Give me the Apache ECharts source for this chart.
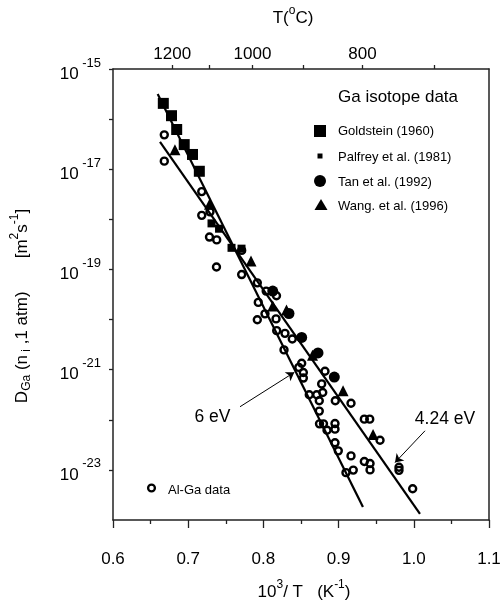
<!DOCTYPE html>
<html><head><meta charset="utf-8">
<script src="https://cdn.jsdelivr.net/npm/echarts@6/dist/echarts.min.js"></script>
<style>html,body{margin:0;padding:0;background:#fff}#c{width:503px;height:605px}</style>
</head><body><div id="c"></div>
<script>
const FONT = '"Liberation Sans", Arial, Helvetica, sans-serif';

// x: 10^3/T (K^-1), y: D_Ga (m^2 s^-1)
const goldsteinX = [0.6669, 0.6778, 0.6847, 0.6947, 0.7057, 0.7148];
const goldsteinY = [2.06e-16, 1.17e-16, 6.2e-17, 3.1e-17, 1.97e-17, 9.1e-18];

const palfreyX = [0.7310, 0.7410, 0.7576, 0.7709];
const palfreyY = [8.3e-19, 6.5e-19, 2.7e-19, 2.6e-19];

const tanX = [0.8124, 0.8340, 0.8509, 0.8726, 0.8943];
const tanY = [3.7e-20, 1.32e-20, 4.4e-21, 2.16e-21, 7.1e-22];

const wangX = [0.6824, 0.7283, 0.7835, 0.8124, 0.8307, 0.8653, 0.9059, 0.9458];
const wangY = [2.45e-17, 2.0e-18, 1.48e-19, 1.86e-20, 1.55e-20, 1.95e-21, 3.8e-22, 5.1e-23];

const alGaX = [0.6682, 0.6682, 0.7180, 0.7290, 0.7180, 0.7283, 0.7379, 0.7376, 0.7711, 0.7711,
               0.7919, 0.8037, 0.8174, 0.7932, 0.8021, 0.8168, 0.7919, 0.8177, 0.8287, 0.8384,
               0.8274, 0.8509, 0.8471, 0.8531, 0.8531, 0.8819, 0.8775, 0.8610, 0.8709, 0.8789,
               0.8743, 0.8956, 0.9165, 0.8743, 0.8746, 0.8799, 0.8952, 0.8952, 0.8846, 0.9342,
               0.9414, 0.9551, 0.8952, 0.8996, 0.9165, 0.9342, 0.9418, 0.9418, 0.9098, 0.9195,
               0.9803, 0.9803, 0.9985];
const alGaY = [4.85e-17, 1.45e-17, 3.58e-18, 1.41e-18, 1.2e-18, 4.43e-19, 3.89e-19, 1.12e-19, 2.4e-19, 7.9e-20,
               5.4e-20, 3.7e-20, 2.98e-20, 2.2e-20, 1.3e-20, 1.03e-20, 9.9e-21, 6.0e-21, 5.3e-21, 4.1e-21,
               2.48e-21, 1.34e-21, 1.11e-21, 8.8e-22, 6.8e-22, 9.3e-22, 5.2e-22, 3.16e-22, 3.16e-22, 3.5e-22,
               2.4e-22, 2.4e-22, 2.14e-22, 1.49e-22, 8.3e-23, 8.3e-23, 8.4e-23, 6.5e-23, 6.2e-23, 1.03e-22,
               1.03e-22, 3.9e-23, 3.47e-23, 2.4e-23, 1.9e-23, 1.47e-23, 1.34e-23, 1.0e-23, 8.8e-24, 9.9e-24,
               1.13e-23, 9.8e-24, 4.2e-24];

// fitted Arrhenius lines (end points)
const line6eVX = [0.6594, 0.9324];
const line6eVY = [3.16e-16, 1.82e-24];
const line424eVX = [0.6625, 1.0082];
const line424eVY = [3.52e-17, 1.32e-24];

// annotation arrows [startX, startY, endX, endY]
const arrow6eV = [0.7689, 1.82e-22, 0.8411, 8.83e-22];
const arrow424eV = [1.0149, 6.03e-23, 0.975, 1.40e-23];

// axis ticks
const xMin = 0.6, xMax = 1.1, xStep = 0.1;
const yMin = 1e-24, yMax = 1e-15;
const topTickC = [1200, 1100, 1000, 900, 800, 700];
const topLabelC = [1200, 1000, 800];

const zip = (xs, ys) => xs.map((x, i) => [x, ys[i]]);
const cToX = c => 1000 / (c + 273.15);

const AX = '#222';
const chart = echarts.init(document.getElementById('c'), null, {renderer: 'canvas'});

const richName = {
  b: {fontSize: 17, fontFamily: FONT, color: '#000'},
  sup: {fontSize: 12, fontFamily: FONT, color: '#000', padding: [0, 0, 14, 0]},
  sub: {fontSize: 12, fontFamily: FONT, color: '#000', padding: [10, 0, 0, 0]}
};
const filled = {color: '#000', opacity: 1};

const option = {
  animation: false,
  backgroundColor: '#fff',
  grid: {left: 113, right: 14, top: 69, bottom: 85, show: false, containLabel: false, outerBoundsMode: 'none'},
  xAxis: [{
    type: 'value', min: xMin, max: xMax, interval: xStep, position: 'bottom',
    axisLine: {show: true, onZero: false, lineStyle: {color: AX, width: 1.5}},
    axisTick: {show: true, inside: false, length: 8, lineStyle: {color: AX, width: 1.3}},
    minorTick: {show: true, splitNumber: 2, length: 4, lineStyle: {color: AX, width: 1.3}},
    splitLine: {show: false},
    axisLabel: {margin: 31, fontSize: 17, color: '#000', fontFamily: FONT,
      showMinLabel: true, showMaxLabel: true, formatter: v => v.toFixed(1)}
  }, {
    type: 'value', min: xMin, max: xMax, position: 'top',
    axisLine: {show: true, onZero: false, lineStyle: {color: AX, width: 1.5}},
    axisTick: {show: true, inside: false, length: 4, customValues: topTickC.map(cToX), lineStyle: {color: AX, width: 1.3}},
    splitLine: {show: false},
    axisLabel: {margin: 6, fontSize: 17, color: '#000', fontFamily: FONT,
      customValues: topLabelC.map(cToX), formatter: v => String(Math.round(1000 / v - 273.15))}
  }],
  yAxis: [{
    type: 'log', logBase: 10, min: yMin, max: yMax, splitNumber: 9, position: 'left',
    axisLine: {show: true, onZero: false, lineStyle: {color: AX, width: 1.5}},
    axisTick: {show: true, inside: false, length: 4, lineStyle: {color: AX, width: 1.3}},
    splitLine: {show: false},
    axisLabel: {
      margin: 12, color: '#000', fontFamily: FONT,
      formatter: v => { const e = Math.round(Math.log10(v)); return (e % 2 !== 0) ? '{b|10}{e| ' + e + '}' : ''; },
      rich: {
        b: {fontSize: 17, fontFamily: FONT, color: '#000', padding: [10, 0, 0, 0]},
        e: {fontSize: 13, fontFamily: FONT, color: '#000', padding: [0, 0, 12, 0]}
      }
    }
  }, {
    type: 'log', logBase: 10, min: yMin, max: yMax, splitNumber: 9, position: 'right',
    axisLine: {show: true, onZero: false, lineStyle: {color: AX, width: 1.5}},
    axisTick: {show: false}, axisLabel: {show: false}, splitLine: {show: false}
  }],
  series: [
    {name: '6 eV', type: 'line', data: zip(line6eVX, line6eVY), symbol: 'none',
      lineStyle: {color: '#000', width: 2.2}, silent: true,
      markLine: {silent: true, symbol: ['none', 'arrow'], symbolSize: 8, label: {show: false},
        lineStyle: {color: '#000', width: 1, type: 'solid', opacity: 1},
        data: [
          [{coord: [arrow6eV[0], arrow6eV[1]]}, {coord: [arrow6eV[2], arrow6eV[3]]}],
          [{coord: [arrow424eV[0], arrow424eV[1]]}, {coord: [arrow424eV[2], arrow424eV[3]]}]
        ]}},
    {name: '4.24 eV', type: 'line', data: zip(line424eVX, line424eVY), symbol: 'none',
      lineStyle: {color: '#000', width: 2.2}, silent: true},
    {name: 'Al-Ga data', type: 'scatter', data: zip(alGaX, alGaY), symbol: 'circle', symbolSize: 7,
      itemStyle: {color: 'rgba(255,255,255,0)', borderColor: '#000', borderWidth: 2.4, opacity: 1}},
    {name: 'Goldstein (1960)', type: 'scatter', data: zip(goldsteinX, goldsteinY), symbol: 'rect', symbolSize: 11,
      itemStyle: filled},
    {name: 'Palfrey et al. (1981)', type: 'scatter', data: zip(palfreyX, palfreyY), symbol: 'rect', symbolSize: 8,
      itemStyle: filled},
    {name: 'Tan et al. (1992)', type: 'scatter', data: zip(tanX, tanY), symbol: 'circle', symbolSize: 11,
      itemStyle: filled},
    {name: 'Wang. et al. (1996)', type: 'scatter', data: zip(wangX, wangY), symbol: 'triangle', symbolSize: 11,
      itemStyle: filled}
  ],
  graphic: [
    {type: 'text', x: 293, y: 18, style: {text: '{b|T(}{sup|o}{b|C)}', rich: richName, align: 'center', verticalAlign: 'middle'}},
    {type: 'text', x: 304, y: 592, style: {text: '{b|10}{sup|3}{b|/ T   (K}{sup|-1}{b|)}', rich: richName, align: 'center', verticalAlign: 'middle'}},
    {type: 'text', x: 22, y: 306, rotation: Math.PI / 2,
      style: {text: '{b|D}{sub|Ga}{b| (n}{sub| i}{b| ,1 atm)       [m}{sup|2}{b|s}{sup|-1}{b|]}', rich: richName, align: 'center', verticalAlign: 'middle'}},
    {type: 'text', x: 398, y: 97, style: {text: 'Ga isotope data', fontSize: 17, fontFamily: FONT, fill: '#000', align: 'center', verticalAlign: 'middle'}},
    {type: 'rect', shape: {x: 314, y: 125, width: 12, height: 12}, style: {fill: '#000'}},
    {type: 'text', x: 338, y: 131, style: {text: 'Goldstein (1960)', fontSize: 13, fontFamily: FONT, fill: '#000', verticalAlign: 'middle'}},
    {type: 'rect', shape: {x: 317.5, y: 153.5, width: 5, height: 5}, style: {fill: '#000'}},
    {type: 'text', x: 338, y: 157, style: {text: 'Palfrey et al. (1981)', fontSize: 13, fontFamily: FONT, fill: '#000', verticalAlign: 'middle'}},
    {type: 'circle', shape: {cx: 320, cy: 181, r: 6}, style: {fill: '#000'}},
    {type: 'text', x: 338, y: 182, style: {text: 'Tan et al. (1992)', fontSize: 13, fontFamily: FONT, fill: '#000', verticalAlign: 'middle'}},
    {type: 'polygon', shape: {points: [[321, 199], [327.5, 210], [314.5, 210]]}, style: {fill: '#000'}},
    {type: 'text', x: 338, y: 206, style: {text: 'Wang. et al. (1996)', fontSize: 13, fontFamily: FONT, fill: '#000', verticalAlign: 'middle'}},
    {type: 'circle', shape: {cx: 151.5, cy: 488, r: 3.4}, style: {fill: 'none', stroke: '#000', lineWidth: 2.3}},
    {type: 'text', x: 168, y: 490, style: {text: 'Al-Ga data', fontSize: 13, fontFamily: FONT, fill: '#000', verticalAlign: 'middle'}},
    {type: 'text', x: 212.5, y: 417, style: {text: '6 eV', fontSize: 17.5, fontFamily: FONT, fill: '#000', align: 'center', verticalAlign: 'middle'}},
    {type: 'text', x: 445, y: 419, style: {text: '4.24 eV', fontSize: 17.5, fontFamily: FONT, fill: '#000', align: 'center', verticalAlign: 'middle'}}
  ]
};
try {
  chart.setOption(option);
} catch (e) {
  document.body.insertAdjacentHTML('beforeend', '<pre>' + e.stack + '</pre>');
}
</script></body></html>
